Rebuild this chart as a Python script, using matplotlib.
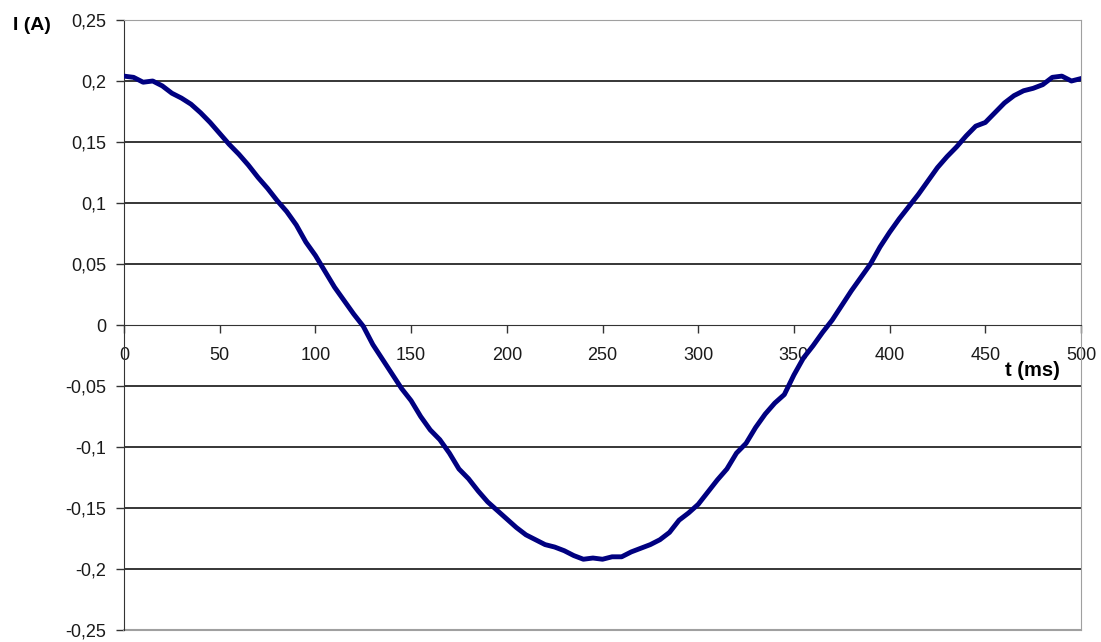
import matplotlib
matplotlib.use("Agg")
import matplotlib.pyplot as plt
from matplotlib.ticker import FuncFormatter

# time (ms) and current (A)
t_ms = list(range(0, 505, 5))
current_a = [
    0.204, 0.203, 0.199, 0.200, 0.196, 0.190, 0.186, 0.181, 0.174, 0.166,
    0.157, 0.148, 0.140, 0.131, 0.121, 0.112, 0.102, 0.093, 0.082, 0.068,
    0.057, 0.044, 0.031, 0.020, 0.009, -0.001, -0.016, -0.028, -0.040, -0.052,
    -0.062, -0.075, -0.086, -0.094, -0.105, -0.118, -0.126, -0.136, -0.145, -0.152,
    -0.159, -0.166, -0.172, -0.176, -0.180, -0.182, -0.185, -0.189, -0.192, -0.191,
    -0.192, -0.190, -0.190, -0.186, -0.183, -0.180, -0.176, -0.170, -0.160, -0.154,
    -0.147, -0.137, -0.127, -0.118, -0.105, -0.097, -0.084, -0.073, -0.064, -0.057,
    -0.041, -0.027, -0.017, -0.006, 0.004, 0.016, 0.028, 0.039, 0.050, 0.064,
    0.076, 0.087, 0.097, 0.107, 0.118, 0.129, 0.138, 0.146, 0.155, 0.163,
    0.166, 0.174, 0.182, 0.188, 0.192, 0.194, 0.197, 0.203, 0.204, 0.200,
    0.202,
]
x_ticks = list(range(0, 550, 50))
y_ticks = [-0.25, -0.2, -0.15, -0.1, -0.05, 0, 0.05, 0.1, 0.15, 0.2, 0.25]

plt.rcParams["font.family"] = ["Liberation Sans", "DejaVu Sans"]

fig = plt.figure(figsize=(11.01, 6.42), dpi=100)
ax = fig.add_axes([124 / 1101, 1 - 630 / 642, (1081 - 124) / 1101, 610 / 642])

for yv in y_ticks[1:-1]:
    if yv != 0:
        ax.axhline(yv, color="black", lw=1.1, zorder=1)

ax.plot(t_ms, current_a, color="#000080", lw=3.5, zorder=3, solid_joinstyle="round")

ax.set_xlim(0, 500)
ax.set_ylim(-0.25, 0.25)
ax.set_xticks(x_ticks)
ax.set_yticks(y_ticks)


def comma(v, _pos):
    s = f"{v:g}"
    if s == "-0":
        s = "0"
    return s.replace(".", ",")


ax.xaxis.set_major_formatter(FuncFormatter(lambda v, p: f"{int(v)}"))
ax.yaxis.set_major_formatter(FuncFormatter(comma))

ax.spines["bottom"].set_position(("data", 0))
ax.spines["bottom"].set_color("#333333")
ax.spines["left"].set_color("#333333")
for side in ("top", "right"):
    ax.spines[side].set_color("#a0a0a0")
ax.axhline(-0.25, color="#a0a0a0", lw=1.5, clip_on=False, zorder=2)

ax.tick_params(axis="both", direction="out", length=6, width=1, color="#333333",
               labelsize=13, labelcolor="#1a1a1a")
ax.tick_params(axis="x", pad=10)
ax.tick_params(axis="y", pad=7)

fig.text(13 / 1101, 1 - 26 / 642, "I (A)", fontsize=14, fontweight="bold",
         va="center", ha="left")
fig.text(1005 / 1101, 1 - 371 / 642, "t (ms)", fontsize=14.5, fontweight="bold",
         va="center", ha="left")

fig.savefig("out.png", dpi=100)
